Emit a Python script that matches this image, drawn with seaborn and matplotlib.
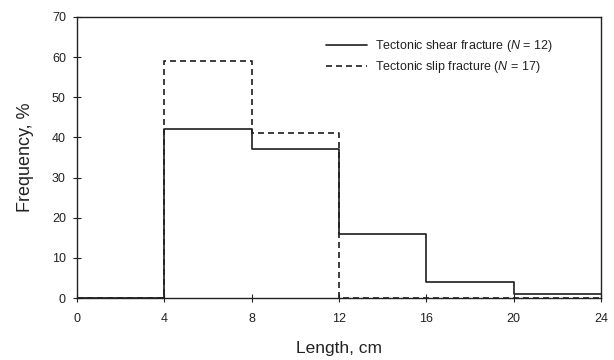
import matplotlib
matplotlib.use("Agg")
import matplotlib.pyplot as plt
import seaborn as sns
import pandas as pd

edges = [0, 4, 8, 12, 16, 20, 24]
shear_freq = [0, 42, 37, 16, 4, 1]
slip_freq = [0, 59, 41, 0, 0, 0]
x_ticks = [0, 4, 8, 12, 16, 20, 24]
y_ticks = [0, 10, 20, 30, 40, 50, 60, 70]
labels = ["Tectonic shear fracture ($\\it{N}$ = 12)",
          "Tectonic slip fracture ($\\it{N}$ = 17)"]

sns.set_theme(style="ticks")
plt.rcParams['font.family'] = ['Liberation Sans', 'DejaVu Sans']
plt.rcParams['mathtext.fontset'] = 'custom'
plt.rcParams['mathtext.it'] = 'Liberation Sans:italic'
plt.rcParams['mathtext.rm'] = 'Liberation Sans'

rows = []
for name, vals in zip(labels, [shear_freq, slip_freq]):
    for e, v in zip(edges, vals + [vals[-1]]):
        rows.append({"Length": e, "Frequency": v, "series": name})
df = pd.DataFrame(rows)

fig = plt.figure(figsize=(6.14, 3.6), dpi=100)
ax = fig.add_axes([0.1254, 0.1722, 0.8534, 0.7806])

for name, ls in zip(labels, ["-", (0, (3.6, 2.4))]):
    sub = df[df["series"] == name]
    sns.lineplot(data=sub, x="Length", y="Frequency", ax=ax, color="#1e1e1e",
                 drawstyle="steps-post", linestyle=ls, linewidth=1.2, label=name)

ax.set_xlim(0, 24)
ax.set_ylim(0, 70)
ax.set_xticks(x_ticks)
ax.set_yticks(y_ticks)
ax.tick_params(axis="both", labelsize=9, length=6, width=0.8, direction="inout",
               color="#222222", labelcolor="#222222")
ax.tick_params(axis="x", pad=8)
ax.tick_params(axis="y", pad=5)
for s in ax.spines.values():
    s.set_color("#222222")
    s.set_linewidth(1.0)
ax.set_xlabel("Length, cm", fontsize=12.5, labelpad=11, color="#222222")
ax.set_ylabel("Frequency, %", fontsize=13, labelpad=13, color="#222222")

leg = ax.legend(loc="upper left", bbox_to_anchor=(0.475, 0.925), frameon=False,
                fontsize=9, handlelength=3.3, handletextpad=0.6, labelspacing=0.42,
                borderpad=0, borderaxespad=0)
for t in leg.get_texts():
    t.set_color("#222222")

fig.savefig("out.png", dpi=100)
